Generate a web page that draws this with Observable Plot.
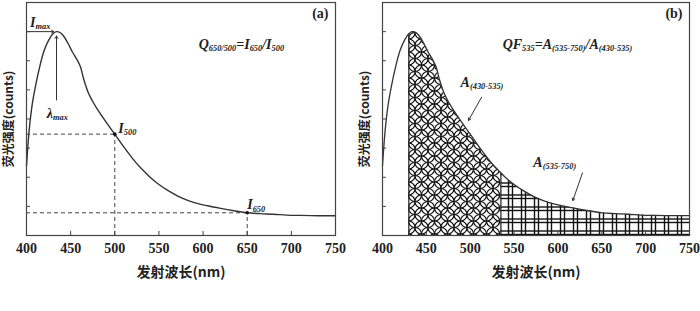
<!DOCTYPE html>
<html>
<head>
<meta charset="utf-8">
<script src="https://cdn.jsdelivr.net/npm/d3@7"></script>
<script src="https://cdn.jsdelivr.net/npm/@observablehq/plot@0.6"></script>
<style>
  body { margin: 0; background: #fff; }
  #wrap { display: flex; align-items: flex-start; width: 700px; height: 311px; background: #fff; }
  #wrap svg { flex: none; height: 290px; }
</style>
</head>
<body>
<div id="wrap"></div>
<script>
// ---- data ----
const wavelength = [400,403,406,410,415,420,425,430,434,438,442,447,452,457,461,465,470,475,480,490,500,510,520,530,535,540,550,560,575,590,605,620,635,650,665,680,695,710,730,750];
const intensity  = [2.4,3.6,4.4,5.1,5.8,6.35,6.7,6.93,7.0,6.97,6.85,6.6,6.3,6.05,5.8,5.35,4.9,4.6,4.35,3.9,3.48,3.05,2.65,2.3,2.15,2.0,1.75,1.55,1.3,1.13,1.02,0.93,0.85,0.78,0.75,0.73,0.7,0.69,0.68,0.68];
const xTicks = [400,450,500,550,600,650,700,750];
const yTicks = [1,2,3,4,5,6,7];
const xTitle = "发射波长(nm)";
const yTitle = "荧光强度(counts)";
const panelLabels = ["(a)", "(b)"];
const peakWavelength = 434, peakValue = 7.0;
const guideWavelengths = [500, 650];
const guideValues = [3.48, 0.78];
const bandA = [430, 535];
const bandB = [535, 750];
// annotation texts (with _{...} subscripts)
const formulaA = "Q_{650/500}=I_{650}/I_{500}";
const formulaB = "QF_{535}=A_{(535-750)}/A_{(430-535)}";
const labelsA = [
  {x: 404, y: 7.3, t: "I_{max}"},
  {x: 504, y: 3.67, t: "I_{500}"},
  {x: 650, y: 1.05, t: "I_{650}"}
];
const lambdaLabel = {x: 435, y: 4.2, t: "λ_{max}"};
const labelsB = [
  {x: 489, y: 5.25, t: "A_{(430-535)}"},
  {x: 572, y: 2.5, t: "A_{(535-750)}"}
];
const arrowsB = [
  {x1: 513, y1: 4.75, x2: 498, y2: 3.95},
  {x1: 628, y1: 2.15, x2: 617, y2: 1.2}
];

const spectrum = wavelength.map((w, i) => ({w, v: intensity[i]}));
const inBand = (b) => spectrum.filter(d => d.w >= b[0] && d.w <= b[1]);

const serif = "'Liberation Serif', 'Times New Roman', serif";
const cjk = "'Noto Sans CJK SC', 'Liberation Serif', serif";
const ink = "#222";

function subscriptify(svg) {
  svg.querySelectorAll("text").forEach(t => {
    const s = t.textContent;
    if (!s.includes("_{")) return;
    t.textContent = "";
    const parts = s.split(/(_\{[^}]*\})/);
    let shifted = false;
    parts.forEach(p => {
      if (!p) return;
      const ts = document.createElementNS("http://www.w3.org/2000/svg", "tspan");
      if (p.startsWith("_{")) {
        ts.textContent = p.slice(2, -1);
        ts.setAttribute("font-size", "0.6em");
        ts.setAttribute("dy", shifted ? "0" : "0.25em");
        shifted = true;
      } else {
        ts.textContent = p;
        if (shifted) { ts.setAttribute("dy", "-0.15em"); shifted = false; }
      }
      t.appendChild(ts);
    });
  });
}

const italicText = {fontSize: 14, fontStyle: "italic", fontWeight: "bold", fill: ink, fontFamily: serif};

function commonMarks(label) {
  return [
    Plot.ruleX(xTicks, {y1: 0, y2: 0.14, stroke: "#444", strokeWidth: 1}),
    Plot.ruleY(yTicks, {x1: 400, x2: 404.5, stroke: "#444", strokeWidth: 1}),
    Plot.text(xTicks, {x: d => d, frameAnchor: "bottom", lineAnchor: "middle", dy: 13, text: d => String(d), fontSize: 14, fontWeight: "bold", fontFamily: serif, fill: ink}),
    Plot.text([xTitle], {frameAnchor: "bottom", lineAnchor: "middle", dy: 37, fontSize: 14, fontWeight: "bold", fill: ink, fontFamily: cjk}),
    Plot.text([yTitle], {frameAnchor: "left", textAnchor: "middle", lineAnchor: "middle", rotate: -90, dx: -17, fontSize: 12, fontWeight: "bold", fill: ink, fontFamily: cjk}),
    Plot.text([label], {frameAnchor: "top-right", dx: -7, dy: 6, fontSize: 14, fontWeight: "bold", fill: ink, fontFamily: serif}),
    Plot.frame({stroke: "#444", strokeWidth: 1.2})
  ];
}

// ---- panel (a) ----
const left = Plot.plot({
  width: 350, height: 290,
  marginLeft: 26, marginRight: 15, marginTop: 2, marginBottom: 55,
  x: {domain: [400, 750], axis: null},
  y: {domain: [0, 8], axis: null},
  style: {fontFamily: serif, background: "#fff", color: ink},
  marks: [
    Plot.ruleY(guideValues, {x1: 400, x2: guideWavelengths, stroke: "#444", strokeDasharray: "4,3", strokeWidth: 1}),
    Plot.ruleX(guideWavelengths, {y1: 0, y2: guideValues, stroke: "#444", strokeDasharray: "4,3", strokeWidth: 1}),
    Plot.line(spectrum, {x: "w", y: "v", curve: "catmull-rom", stroke: "#333", strokeWidth: 1.4}),
    Plot.dot(guideWavelengths.map((w, i) => ({w, v: guideValues[i]})), {x: "w", y: "v", r: 1.8, fill: "#111"}),
    Plot.arrow([{x1: 400, y1: peakValue, x2: peakWavelength - 3, y2: peakValue}], {x1: "x1", y1: "y1", x2: "x2", y2: "y2", stroke: "#333", headLength: 4, strokeWidth: 1}),
    Plot.arrow([{x1: peakWavelength, y1: 4.65, x2: peakWavelength, y2: peakValue - 0.15}], {x1: "x1", y1: "y1", x2: "x2", y2: "y2", stroke: "#333", headLength: 4, strokeWidth: 1}),
    Plot.text(labelsA, {x: "x", y: "y", text: "t", textAnchor: "start", ...italicText}),
    Plot.text([lambdaLabel], {x: "x", y: "y", text: "t", textAnchor: "middle", ...italicText}),
    Plot.text([formulaA], {x: 595, y: 6.56, textAnchor: "start", ...italicText}),
    ...commonMarks(panelLabels[0])
  ]
});

// ---- panel (b) ----
const right = Plot.plot({
  width: 350, height: 290,
  marginLeft: 32, marginRight: 11, marginTop: 2, marginBottom: 55,
  x: {domain: [400, 750], axis: null},
  y: {domain: [0, 8], axis: null},
  style: {fontFamily: serif, background: "#fff", color: ink},
  marks: [
    Plot.areaY(inBand(bandA), {x: "w", y: "v", curve: "catmull-rom", fill: "url(#shippo)"}),
    Plot.areaY(inBand(bandB), {x: "w", y: "v", curve: "catmull-rom", fill: "url(#gridhatch)"}),
    Plot.ruleX(bandA, {y1: 0, y2: [peakValue - 0.07, 2.15], stroke: "#222", strokeWidth: 1.2}),
    Plot.line(spectrum, {x: "w", y: "v", curve: "catmull-rom", stroke: "#333", strokeWidth: 1.3}),
    Plot.arrow(arrowsB, {x1: "x1", y1: "y1", x2: "x2", y2: "y2", stroke: "#333", headLength: 4, strokeWidth: 1}),
    Plot.text(labelsB, {x: "x", y: "y", text: "t", textAnchor: "start", ...italicText}),
    Plot.text([formulaB], {x: 537, y: 6.56, textAnchor: "start", ...italicText}),
    ...commonMarks(panelLabels[1])
  ]
});

// hatch patterns
const defs = d3.select(right).insert("defs", ":first-child");
const s = 13;
const p1 = defs.append("pattern").attr("id", "shippo").attr("patternUnits", "userSpaceOnUse").attr("width", s).attr("height", s);
p1.append("rect").attr("width", s).attr("height", s).attr("fill", "#fff");
[[0,0],[s,0],[0,s],[s,s],[s/2,s/2]].forEach(([cx, cy]) =>
  p1.append("circle").attr("cx", cx).attr("cy", cy).attr("r", s/2).attr("fill", "none").attr("stroke", "#111").attr("stroke-width", 1.2));
const g = 13;
const p2 = defs.append("pattern").attr("id", "gridhatch").attr("patternUnits", "userSpaceOnUse").attr("width", g).attr("height", 12);
p2.append("rect").attr("width", g).attr("height", 12).attr("fill", "#fff");
[2.5, 6.5].forEach(x => p2.append("line").attr("x1", x).attr("x2", x).attr("y1", 0).attr("y2", 12).attr("stroke", "#111").attr("stroke-width", 1.4));
[3, 6.5].forEach(y => p2.append("line").attr("x1", 0).attr("x2", g).attr("y1", y).attr("y2", y).attr("stroke", "#111").attr("stroke-width", 1.4));

subscriptify(left);
subscriptify(right);
document.getElementById("wrap").append(left, right);
</script>
</body>
</html>
